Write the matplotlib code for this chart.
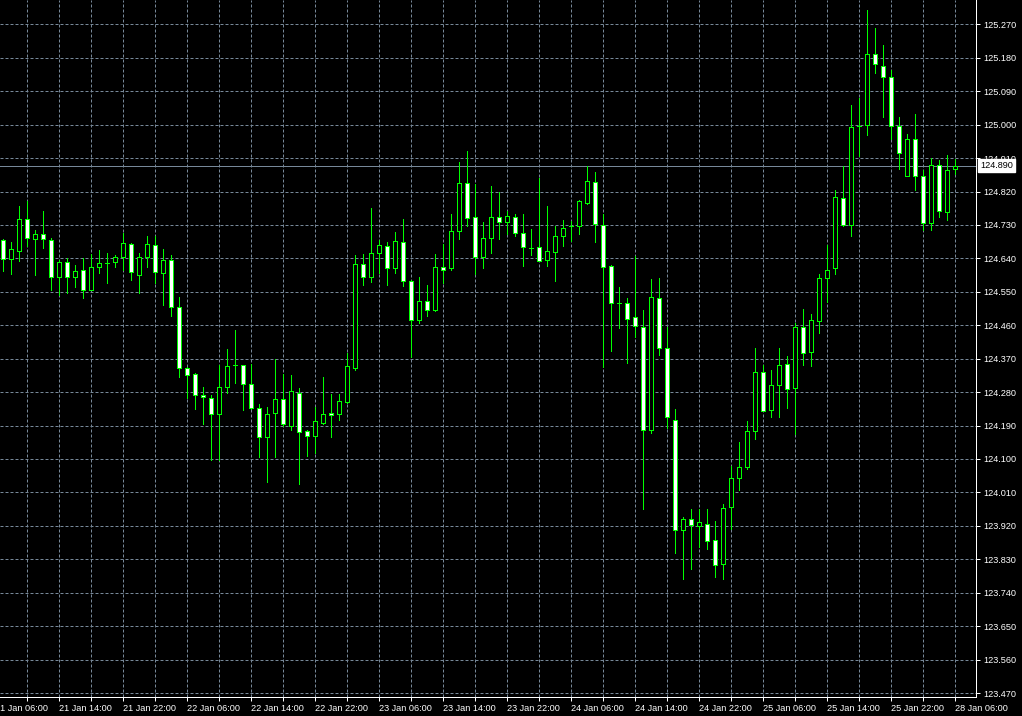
import matplotlib
matplotlib.use("Agg")
import matplotlib.pyplot as plt
import matplotlib.transforms as mtransforms
from matplotlib.patches import Rectangle
import numpy as np

# ── H1 candles, 21 Jan 07:00 .. 28 Jan 06:00 ────────────────────
opens = [
    124.690, 124.637, 124.661, 124.745, 124.691, 124.705, 124.689, 124.589, 124.629, 124.589,
    124.610, 124.556, 124.618, 124.628, 124.629, 124.643, 124.678, 124.596, 124.645, 124.675,
    124.601, 124.635, 124.510, 124.346, 124.330, 124.273, 124.265, 124.221, 124.294, 124.352,
    124.354, 124.303, 124.238, 124.159, 124.223, 124.262, 124.190, 124.278, 124.174, 124.161,
    124.196, 124.225, 124.222, 124.253, 124.345, 124.624, 124.589, 124.654, 124.672, 124.613,
    124.683, 124.580, 124.475, 124.524, 124.500, 124.616, 124.613, 124.713, 124.843, 124.751,
    124.645, 124.694, 124.751, 124.737, 124.751, 124.708, 124.669, 124.670, 124.636, 124.656,
    124.699, 124.726, 124.728, 124.790, 124.845, 124.729, 124.619, 124.520, 124.520, 124.481,
    124.454, 124.178, 124.532, 124.400, 124.205, 123.908, 123.938, 123.919, 123.926, 123.881,
    123.817, 123.971, 124.050, 124.078, 124.176, 124.334, 124.231, 124.300, 124.357, 124.292,
    124.454, 124.388, 124.472, 124.586, 124.613, 124.803, 124.730, 124.996, 124.998, 125.189,
    125.159, 125.127, 124.996, 124.861, 124.962, 124.861, 124.735, 124.892, 124.764, 124.880,
]
highs = [
    124.691, 124.684, 124.781, 124.795, 124.717, 124.768, 124.694, 124.636, 124.640, 124.622,
    124.640, 124.652, 124.663, 124.654, 124.649, 124.709, 124.681, 124.654, 124.700, 124.700,
    124.664, 124.649, 124.535, 124.348, 124.332, 124.295, 124.271, 124.354, 124.395, 124.447,
    124.354, 124.355, 124.249, 124.241, 124.370, 124.328, 124.325, 124.291, 124.178, 124.240,
    124.322, 124.274, 124.274, 124.386, 124.649, 124.652, 124.775, 124.690, 124.683, 124.710,
    124.746, 124.582, 124.591, 124.568, 124.652, 124.678, 124.760, 124.899, 124.930, 124.840,
    124.737, 124.834, 124.820, 124.768, 124.760, 124.760, 124.719, 124.856, 124.781, 124.727,
    124.744, 124.741, 124.797, 124.889, 124.872, 124.760, 124.621, 124.562, 124.532, 124.646,
    124.502, 124.584, 124.588, 124.454, 124.235, 123.943, 123.965, 123.965, 123.965, 123.934,
    123.980, 124.082, 124.145, 124.201, 124.400, 124.354, 124.339, 124.400, 124.376, 124.467,
    124.505, 124.489, 124.598, 124.676, 124.825, 124.888, 125.052, 125.072, 125.309, 125.259,
    125.214, 125.147, 125.021, 124.974, 125.028, 124.877, 124.911, 124.906, 124.917, 124.908,
]
lows = [
    124.607, 124.598, 124.634, 124.673, 124.595, 124.667, 124.556, 124.541, 124.547, 124.564,
    124.532, 124.554, 124.601, 124.574, 124.616, 124.609, 124.582, 124.546, 124.616, 124.574,
    124.514, 124.484, 124.320, 124.265, 124.235, 124.195, 124.097, 124.097, 124.278, 124.304,
    124.233, 124.235, 124.106, 124.037, 124.105, 124.190, 124.179, 124.033, 124.109, 124.115,
    124.194, 124.160, 124.204, 124.250, 124.339, 124.568, 124.577, 124.601, 124.568, 124.601,
    124.566, 124.375, 124.465, 124.485, 124.499, 124.574, 124.609, 124.693, 124.727, 124.598,
    124.615, 124.654, 124.693, 124.706, 124.699, 124.620, 124.649, 124.633, 124.619, 124.580,
    124.673, 124.688, 124.706, 124.787, 124.685, 124.348, 124.391, 124.453, 124.358, 124.429,
    123.965, 124.169, 124.379, 124.183, 123.848, 123.776, 123.803, 123.862, 123.857, 123.781,
    123.778, 123.911, 124.016, 124.073, 124.154, 124.229, 124.213, 124.213, 124.237, 124.168,
    124.352, 124.350, 124.439, 124.523, 124.598, 124.727, 124.701, 124.915, 124.973, 125.140,
    125.021, 124.962, 124.881, 124.861, 124.825, 124.717, 124.717, 124.751, 124.742, 124.866,
]
closes = [
    124.637, 124.664, 124.745, 124.694, 124.705, 124.691, 124.589, 124.629, 124.589, 124.606,
    124.556, 124.616, 124.627, 124.628, 124.643, 124.681, 124.604, 124.643, 124.678, 124.602,
    124.635, 124.510, 124.346, 124.327, 124.273, 124.267, 124.221, 124.295, 124.349, 124.352,
    124.303, 124.238, 124.159, 124.222, 124.262, 124.195, 124.282, 124.172, 124.161, 124.201,
    124.220, 124.219, 124.255, 124.349, 124.625, 124.589, 124.654, 124.675, 124.613, 124.686,
    124.580, 124.475, 124.524, 124.500, 124.616, 124.610, 124.713, 124.843, 124.748, 124.645,
    124.694, 124.751, 124.737, 124.753, 124.708, 124.670, 124.669, 124.633, 124.659, 124.699,
    124.723, 124.726, 124.794, 124.848, 124.732, 124.618, 124.519, 124.520, 124.478, 124.457,
    124.178, 124.535, 124.400, 124.213, 123.908, 123.938, 123.922, 123.931, 123.880, 123.814,
    123.968, 124.050, 124.078, 124.175, 124.334, 124.229, 124.300, 124.354, 124.289, 124.454,
    124.386, 124.475, 124.586, 124.610, 124.805, 124.730, 124.994, 124.996, 125.189, 125.162,
    125.127, 124.996, 124.924, 124.962, 124.861, 124.735, 124.892, 124.767, 124.879, 124.890,
]

# time labels (bar index of each label; -1 is the 21 Jan 06:00 bar just left of the chart)
time_label_bars = [7, 15, 23, 31, 39, 47, 55, 63, 71, 79, 87, 95, 103, 111, 119]
time_labels = ["21 Jan 14:00", "21 Jan 22:00", "22 Jan 06:00",
               "22 Jan 14:00", "22 Jan 22:00", "23 Jan 06:00", "23 Jan 14:00",
               "23 Jan 22:00", "24 Jan 06:00", "24 Jan 14:00", "24 Jan 22:00",
               "25 Jan 06:00", "25 Jan 14:00", "25 Jan 22:00", "28 Jan 06:00"]
first_label_bar = -1
first_label = "21 Jan 06:00"
price_ticks = [round(123.47 + 0.09 * i, 3) for i in range(21)]
last_price = 124.890

BG = "black"
GRID = "#778899"
GREEN = "#00ff00"
FONT = "Liberation Sans"
FS = 6.6

W, H = 1022, 716
fig = plt.figure(figsize=(W / 100, H / 100), dpi=100, facecolor=BG)
ax = fig.add_axes([0, 1 - 697 / H, 976 / W, 697 / H], facecolor=BG)

px = 0.72  # one pixel in points

# ── candles ──────────────────────────────────────────────────────
n = len(opens)
xs = np.arange(n)
ax.vlines(xs, lows, highs, color=GREEN, lw=px, zorder=3, antialiased=False)
for i in range(n):
    o, c = opens[i], closes[i]
    face = "white" if c < o else "black"
    ax.add_patch(Rectangle((i - 0.25, min(o, c)), 0.5, abs(c - o),
                           facecolor=face, edgecolor=GREEN, lw=px, zorder=4,
                           antialiased=False))

# current price line
ax.axhline(last_price, color=GRID, lw=px, zorder=2, antialiased=False)

# ── axes ─────────────────────────────────────────────────────────
ax.yaxis.tick_right()
ax.set_yticks(price_ticks)
ax.set_yticklabels([f"{p:.3f}" for p in price_ticks])

ax.set_xticks(time_label_bars)
ax.set_xticklabels(time_labels, ha="left")
ax.set_xticks(np.arange(3, 122, 8), minor=True)

# limits after the ticks, set_xticks would widen them
ax.set_xlim(-0.41, 121.59)
ax.set_ylim(123.4593, 125.3355)

ax.tick_params(axis="both", which="both", colors="white", direction="out",
               length=3, width=px, labelsize=FS, pad=2)
for lab in ax.get_xticklabels() + ax.get_yticklabels():
    lab.set_fontfamily(FONT)
    lab.set_color("white")

# the first time label sits on a bar just outside the left edge
base = mtransforms.blended_transform_factory(ax.transData, ax.transAxes)
ax.text(first_label_bar, 0, first_label, fontsize=FS, family=FONT, color="white",
        ha="left", va="top", clip_on=False,
        transform=mtransforms.offset_copy(base, fig=fig, y=-5, units="points"))

ax.grid(True, which="both", color=GRID, lw=px, linestyle=(0, (3, 2)))
ax.set_axisbelow(True)

for s in ["top", "left"]:
    ax.spines[s].set_visible(False)
for s in ["right", "bottom"]:
    ax.spines[s].set_color("white")
    ax.spines[s].set_linewidth(px)

# current price tag on the right scale
trans = mtransforms.blended_transform_factory(ax.transAxes, ax.transData)
ax.text(1.004, last_price, f"{last_price:.3f}", transform=trans, ha="left", va="center",
        fontsize=FS, family=FONT, color="black", clip_on=False, zorder=10,
        bbox=dict(boxstyle="square,pad=0.2", facecolor="white", edgecolor="white"))

fig.savefig("out.png", dpi=100, facecolor=BG)
